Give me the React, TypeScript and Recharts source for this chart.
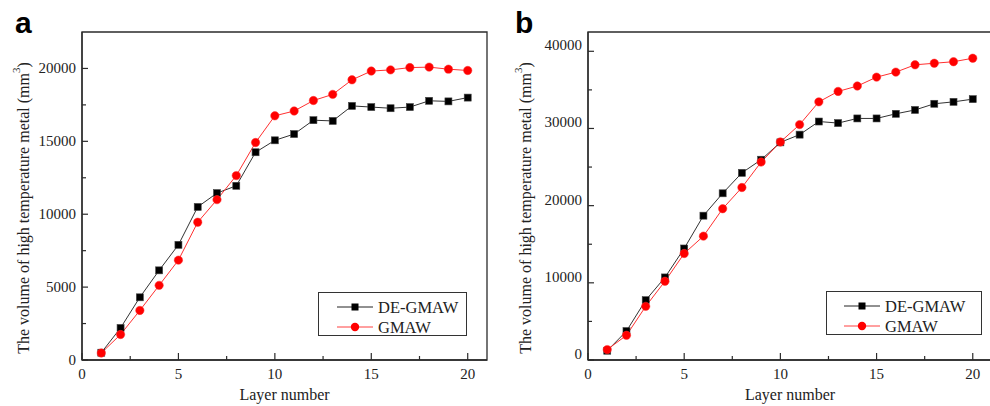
import React from 'react';
import { LineChart, Line, XAxis, YAxis, ReferenceArea } from 'recharts';

// layer index on the x axis
const layers = [1, 2, 3, 4, 5, 6, 7, 8, 9, 10, 11, 12, 13, 14, 15, 16, 17, 18, 19, 20];

// panel a
const deGmawA = [500, 2200, 4300, 6150, 7900, 10500, 11450, 11950, 14250, 15070, 15500, 16450, 16400, 17430, 17350, 17270, 17350, 17780, 17740, 18000];
const gmawA = [480, 1750, 3400, 5120, 6850, 9450, 11000, 12650, 14920, 16750, 17080, 17800, 18220, 19220, 19820, 19900, 20060, 20090, 19950, 19860];

// panel b
const deGmawB = [1200, 3750, 7750, 10700, 14450, 18700, 21600, 24250, 25950, 28200, 29200, 30900, 30700, 31300, 31300, 31900, 32400, 33200, 33450, 33800];
const gmawB = [1350, 3200, 6950, 10200, 13800, 16050, 19600, 22350, 25650, 28250, 30500, 33450, 34800, 35500, 36650, 37300, 38250, 38450, 38650, 39100];

const xTicks = [0, 2.5, 5, 7.5, 10, 12.5, 15, 17.5, 20];
const yTicksA = [0, 2500, 5000, 7500, 10000, 12500, 15000, 17500, 20000];
const yTicksB = [0, 5000, 10000, 15000, 20000, 25000, 30000, 35000, 40000];

const seriesNames = ['DE-GMAW', 'GMAW'];
const yTitle = 'The volume of high temperature metal (mm';
const xTitle = 'Layer number';

const SERIF = "'Liberation Serif', 'Times New Roman', serif";
const AXIS = '#2b2b2b';

const XTick = (props: any) => {
  const { x, y, payload } = props;
  const major = payload.value % 5 === 0;
  return (
    <g>
      <line x1={x} x2={x} y1={y} y2={y - (major ? 7 : 4)} stroke={AXIS} strokeWidth={1.2} />
      {major && (
        <text x={x} y={y + 19} textAnchor="middle" fontFamily={SERIF} fontSize={15} fill="#222">
          {payload.value}
        </text>
      )}
    </g>
  );
};

const YTick = (props: any) => {
  const { x, y, payload, step, shift } = props;
  const major = payload.value % step === 0;
  return (
    <g>
      <line x1={x} x2={x + (major ? 6 : 4)} y1={y} y2={y} stroke={AXIS} strokeWidth={1.2} />
      {major && (
        <text x={x - 6} y={y + 5 + shift} textAnchor="end" fontFamily={SERIF} fontSize={15} fill="#222">
          {payload.value}
        </text>
      )}
    </g>
  );
};

const YLabel = (props: any) => {
  const { viewBox, dx, dyc } = props;
  const cx = viewBox.x + dx;
  const cy = viewBox.y + viewBox.height / 2 + dyc;
  return (
    <text
      transform={`translate(${cx},${cy}) rotate(-90)`}
      textAnchor="middle"
      dominantBaseline="central"
      fontFamily={SERIF}
      fontSize={16}
      fill="#222"
    >
      {yTitle}
      <tspan dy={-7} fontSize={11}>3</tspan>
      <tspan dy={7}>)</tspan>
    </text>
  );
};

const XLabel = (props: any) => {
  const { viewBox } = props;
  return (
    <text x={viewBox.x + viewBox.width / 2} y={viewBox.y + 40} textAnchor="middle" fontFamily={SERIF} fontSize={16} fill="#222">
      {xTitle}
    </text>
  );
};

const Square = (props: any) => {
  const { cx, cy, index } = props;
  return <rect key={`sq-${index}`} x={cx - 3.5} y={cy - 3.5} width={7} height={7} fill="#000" stroke="#444" strokeWidth={0.6} />;
};

const Dot = (props: any) => {
  const { cx, cy, index } = props;
  return <circle key={`ci-${index}`} cx={cx} cy={cy} r={4.2} fill="#ff0000" stroke="#ff3030" strokeWidth={0.5} />;
};

const LegendBox = ({ left, top, width, lineX, textX }: any) => (
  <div style={{ position: 'absolute', left, top, width, height: 44 }}>
    <svg width={width} height={44} style={{ display: 'block' }}>
      <rect x={0.5} y={0.5} width={width - 1} height={43} fill="#fff" stroke="#333" strokeWidth={1} />
      <line x1={lineX} x2={lineX + 36} y1={15} y2={15} stroke="#222" strokeWidth={1} />
      <rect x={lineX + 14.5} y={11.5} width={7} height={7} fill="#000" />
      <text x={textX} y={21} fontFamily={SERIF} fontSize={16.5} fill="#222">{seriesNames[0]}</text>
      <line x1={lineX} x2={lineX + 36} y1={35} y2={35} stroke="#ff4040" strokeWidth={1} />
      <circle cx={lineX + 18} cy={35} r={4.2} fill="#ff0000" />
      <text x={textX} y={41} fontFamily={SERIF} fontSize={16.5} fill="#222">{seriesNames[1]}</text>
    </svg>
  </div>
);

function Panel({ de, gm, yMax, yTicks, step, shift, margin, width, labelDx }: any) {
  const data = layers.map((layer, i) => ({ layer, de: de[i], gm: gm[i] }));
  return (
    <LineChart width={width} height={406} data={data} margin={margin}>
      <XAxis
        dataKey="layer"
        type="number"
        domain={[0, 21]}
        ticks={xTicks}
        interval={0}
        height={30}
        tickSize={0}
        tickMargin={0}
        tickLine={false}
        axisLine={{ stroke: AXIS, strokeWidth: 1.3 }}
        tick={<XTick />}
        label={<XLabel />}
      />
      <YAxis
        type="number"
        domain={[0, yMax]}
        ticks={yTicks}
        interval={0}
        width={60}
        tickSize={0}
        tickMargin={0}
        tickLine={false}
        axisLine={{ stroke: AXIS, strokeWidth: 1.3 }}
        tick={<YTick step={step} shift={shift} />}
        label={<YLabel dx={labelDx} dyc={12} />}
      />
      <ReferenceArea x1={0} x2={21} y1={0} y2={yMax} fill="none" stroke={AXIS} strokeWidth={1.3} />
      <Line
        type="linear"
        dataKey="de"
        name={seriesNames[0]}
        stroke="#333"
        strokeWidth={1}
        dot={Square}
        activeDot={false}
        isAnimationActive={false}
      />
      <Line
        type="linear"
        dataKey="gm"
        name={seriesNames[1]}
        stroke="#ff3030"
        strokeWidth={1}
        dot={Dot}
        activeDot={false}
        isAnimationActive={false}
      />
    </LineChart>
  );
}

export default function App() {
  return (
    <div style={{ position: 'absolute', left: 0, top: 0, width: 990, height: 406, overflow: 'hidden', background: '#fff' }}>
      <div style={{ position: 'absolute', left: 0, top: 0 }}>
        <Panel
          de={deGmawA}
          gm={gmawA}
          yMax={22500}
          yTicks={yTicksA}
          step={5000}
          shift={0}
          width={495}
          margin={{ top: 32, right: 8, bottom: 16, left: 22 }}
          labelDx={1}
        />
      </div>
      <div style={{ position: 'absolute', left: 495, top: 0 }}>
        <Panel
          de={deGmawB}
          gm={gmawB}
          yMax={42500}
          yTicks={yTicksB}
          step={10000}
          shift={-6}
          width={497}
          margin={{ top: 32, right: 0, bottom: 16, left: 33 }}
          labelDx={-3}
        />
      </div>
      <svg width={990} height={40} style={{ position: 'absolute', left: 0, top: 0 }}>
        <text x={15} y={33} fontFamily="'Liberation Sans', Arial, sans-serif" fontWeight="bold" fontSize={30} fill="#000">a</text>
        <text x={515} y={33} fontFamily="'Liberation Sans', Arial, sans-serif" fontWeight="bold" fontSize={30} fill="#000">b</text>
      </svg>
      <LegendBox left={318} top={292} width={149} lineX={19} textX={60} />
      <LegendBox left={826} top={291} width={156} lineX={18} textX={59} />
    </div>
  );
}
